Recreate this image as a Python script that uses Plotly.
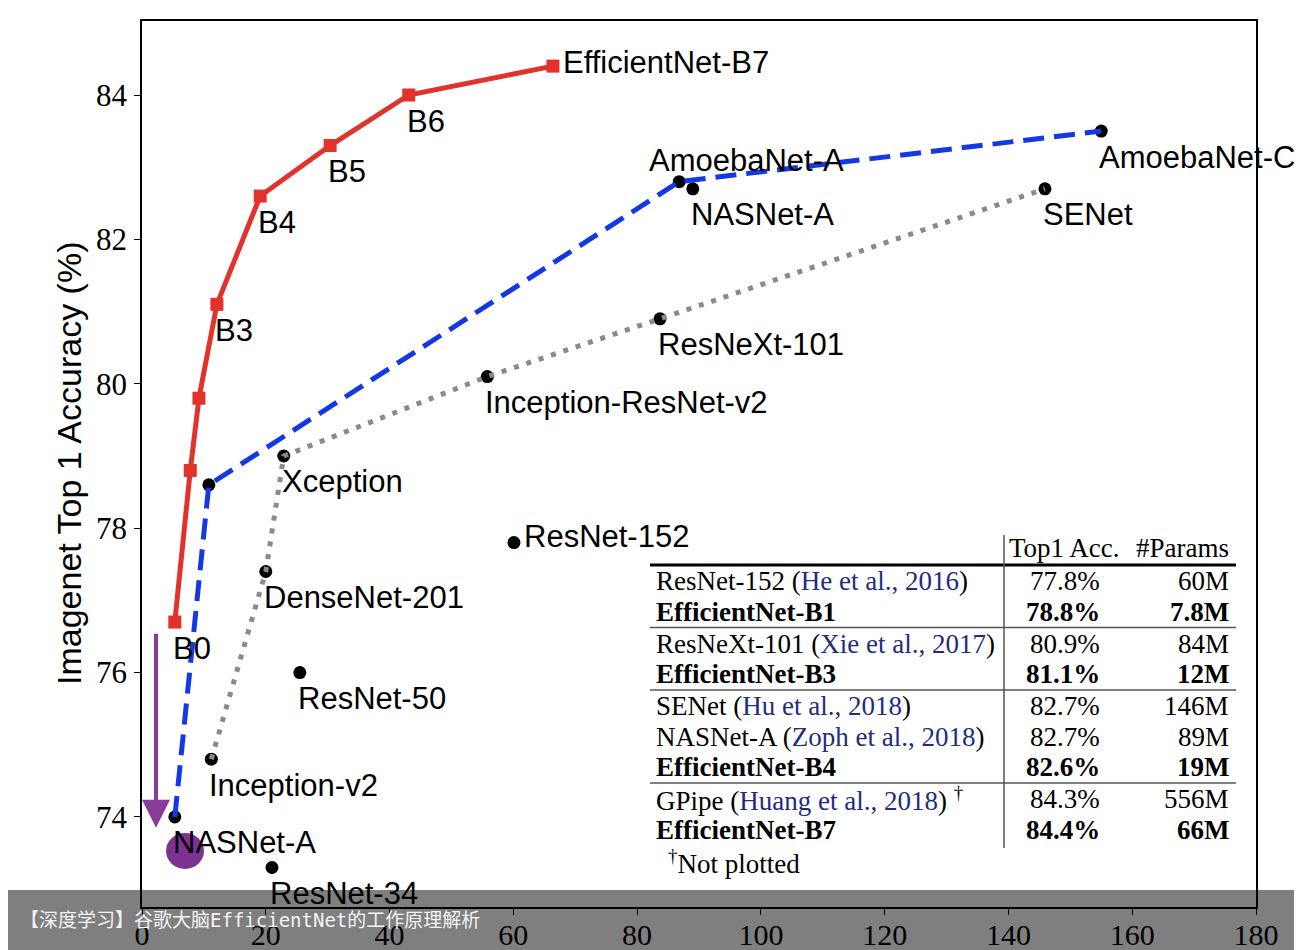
import plotly.graph_objs as go

# EfficientNet family (params in millions, top-1 accuracy %)
effnet_labels = ["B0", "", "", "B3", "B4", "B5", "B6", "EfficientNet-B7"]
effnet_params = [5.3, 7.8, 9.2, 12.1, 19.1, 30.4, 43.1, 66.4]
effnet_acc = [76.7, 78.8, 79.8, 81.1, 82.6, 83.3, 84.0, 84.4]

# blue dashed family
nas_labels = ["NASNet-A", "", "AmoebaNet-A", "AmoebaNet-C"]
nas_params = [5.3, 10.8, 86.8, 155.0]
nas_acc = [74.0, 78.6, 82.8, 83.5]

# gray dotted family
hand_labels = ["Inception-v2", "DenseNet-201", "Xception", "Inception-ResNet-v2", "ResNeXt-101", "SENet"]
hand_params = [11.2, 20.0, 22.9, 55.8, 83.7, 145.9]
hand_acc = [74.8, 77.4, 79.0, 80.1, 80.9, 82.7]

# stand-alone models
solo_labels = ["ResNet-152", "ResNet-50", "ResNet-34", "NASNet-A"]
solo_params = [60.1, 25.5, 21.0, 89.0]
solo_acc = [77.8, 76.0, 73.3, 82.7]

# inset table
tbl_model = ["ResNet-152", "EfficientNet-B1", "ResNeXt-101", "EfficientNet-B3", "SENet",
             "NASNet-A", "EfficientNet-B4", "GPipe", "EfficientNet-B7"]
tbl_cite = ["He et al., 2016", None, "Xie et al., 2017", None, "Hu et al., 2018",
            "Zoph et al., 2018", None, "Huang et al., 2018", None]
tbl_acc = ["77.8%", "78.8%", "80.9%", "81.1%", "82.7%", "82.7%", "82.6%", "84.3%", "84.4%"]
tbl_params = ["60M", "7.8M", "84M", "12M", "146M", "89M", "19M", "556M", "66M"]
tbl_group = [0, 0, 1, 1, 2, 2, 2, 3, 3]
tbl_dagger = [False, False, False, False, False, False, False, True, False]

x_ticks = [0, 20, 40, 60, 80, 100, 120, 140, 160, 180]
y_ticks = [74, 76, 78, 80, 82, 84]

banner_text = "【深度学习】谷歌大脑EfficientNet的工作原理解析"

# plot-area geometry in page pixels (page has an 8px body margin)
PAGE_W, PAGE_H, OFF = 1302, 950, 8
L, R, T, B = 142, 1256, 21, 907


def px(xp):
    return (xp - L) / (R - L)


def py(yp):
    return (B - yp) / (B - T)


RED = "#e1322c"
BLUE = "#1538e6"
GRAY = "#8a8a8a"
PURPLE = "#8a3a98"
CITE = "#1f2d80"
SANS = "Liberation Sans, Arial, sans-serif"
SERIF = "Liberation Serif, Times New Roman, serif"

fig = go.Figure()

# black dots for all the other models
fig.add_trace(go.Scatter(
    x=nas_params + hand_params + solo_params,
    y=nas_acc + hand_acc + solo_acc,
    mode='markers', marker=dict(color='black', size=13),
    showlegend=False, hoverinfo='skip'
))
fig.add_trace(go.Scatter(
    x=hand_params, y=hand_acc, mode='lines',
    line=dict(color=GRAY, width=5, dash='5px,8px'),
    showlegend=False
))
fig.add_trace(go.Scatter(
    x=nas_params, y=nas_acc, mode='lines',
    line=dict(color=BLUE, width=5, dash='21px,10px'),
    showlegend=False
))
fig.add_trace(go.Scatter(
    x=effnet_params, y=effnet_acc, mode='lines+markers',
    line=dict(color=RED, width=5),
    marker=dict(symbol='square', size=13, color=RED),
    showlegend=False
))

annotations = []

# point labels: default is just below-right of the point
special = {
    "AmoebaNet-A": dict(xanchor='center', xshift=67, yshift=21),
    "ResNet-152": dict(xanchor='left', xshift=8, yshift=6),
    "EfficientNet-B7": dict(xanchor='left', xshift=8, yshift=4),
}
for labels, xs, ys in [(effnet_labels, effnet_params, effnet_acc),
                       (nas_labels, nas_params, nas_acc),
                       (hand_labels, hand_params, hand_acc),
                       (solo_labels, solo_params, solo_acc)]:
    for lab, xv, yv in zip(labels, xs, ys):
        if not lab:
            continue
        pos = special.get(lab, dict(xanchor='left', xshift=-4, yshift=-26))
        annotations.append(dict(
            x=xv, y=yv, xref='x', yref='y', text=lab, showarrow=False,
            yanchor='middle', font=dict(family=SANS, size=31, color='black'), **pos
        ))

# y axis title
annotations.append(dict(
    x=px(69), y=0.5, xref='paper', yref='paper', text="Imagenet Top 1 Accuracy (%)",
    textangle=-90, showarrow=False, xanchor='center', yanchor='middle',
    font=dict(family=SANS, size=34, color='black')
))

# purple arrow
annotations.append(dict(
    x=2.26, y=73.85, ax=2.26, ay=76.56, xref='x', yref='y', axref='x', ayref='y',
    text="", showarrow=True, arrowhead=2, arrowsize=1.4, arrowwidth=4, arrowcolor=PURPLE
))

# inset table
tfont = dict(family=SERIF, size=27, color='black')
annotations.append(dict(x=px(1122), y=py(548), xref='paper', yref='paper', text="Top1 Acc.",
                        showarrow=False, xanchor='right', yanchor='middle', font=tfont))
annotations.append(dict(x=px(1231), y=py(548), xref='paper', yref='paper', text="#Params",
                        showarrow=False, xanchor='right', yanchor='middle', font=tfont))
row_y = []
for i, (m, c, a, p, g, d) in enumerate(zip(tbl_model, tbl_cite, tbl_acc, tbl_params, tbl_group, tbl_dagger)):
    yy = 581 + 30.5 * i + 1.5 * g
    row_y.append(yy)
    if c is None:
        name, a, p = f"<b>{m}</b>", f"<b>{a}</b>", f"<b>{p}</b>"
    else:
        name = f"{m} (<span style='color:{CITE}'>{c}</span>)"
        if d:
            name += " <sup>†</sup>"
    annotations.append(dict(x=px(654), y=py(yy), xref='paper', yref='paper', text=name,
                            showarrow=False, xanchor='left', yanchor='middle', font=tfont))
    annotations.append(dict(x=px(1102), y=py(yy), xref='paper', yref='paper', text=a,
                            showarrow=False, xanchor='right', yanchor='middle', font=tfont))
    annotations.append(dict(x=px(1231), y=py(yy), xref='paper', yref='paper', text=p,
                            showarrow=False, xanchor='right', yanchor='middle', font=tfont))
annotations.append(dict(x=px(666), y=py(862), xref='paper', yref='paper', text="<sup>†</sup>Not plotted",
                        showarrow=False, xanchor='left', yanchor='middle', font=tfont))

# banner caption
annotations.append(dict(
    x=px(18), y=py(920), xref='paper', yref='paper', text=banner_text, showarrow=False,
    xanchor='left', yanchor='middle',
    font=dict(family="DejaVu Sans Mono, Noto Sans CJK SC, monospace", size=19, color='#f4f4f4')
))

shapes = []
# table rules
shapes.append(dict(type='line', xref='paper', yref='paper', x0=px(650), x1=px(1236),
                   y0=py(565), y1=py(565), line=dict(color='black', width=3)))
for i in range(len(tbl_group) - 1):
    if tbl_group[i] != tbl_group[i + 1]:
        ys = (row_y[i] + row_y[i + 1]) / 2
        shapes.append(dict(type='line', xref='paper', yref='paper', x0=px(650), x1=px(1236),
                           y0=py(ys), y1=py(ys), line=dict(color='#555', width=1.5)))
shapes.append(dict(type='line', xref='paper', yref='paper', x0=px(1004), x1=px(1004),
                   y0=py(535), y1=py(848), line=dict(color='#555', width=1.5)))
# purple blob
shapes.append(dict(type='circle', xref='x', yref='y', xsizemode='pixel', ysizemode='pixel',
                   xanchor=6.95, yanchor=73.53, x0=-19, x1=19, y0=-18, y1=18,
                   fillcolor='#7d3190', line=dict(width=0)))
# translucent banner
shapes.append(dict(type='rect', xref='paper', yref='paper', x0=px(0), x1=px(PAGE_W + 20),
                   y0=py(PAGE_H + 20), y1=py(890), fillcolor='rgba(0,0,0,0.5)',
                   line=dict(width=0), layer='above'))

fig.update_layout(
    width=PAGE_W - OFF, height=PAGE_H - OFF,
    margin=dict(l=L - OFF, r=PAGE_W - R, t=T - OFF, b=PAGE_H - B, autoexpand=False),
    paper_bgcolor='white', plot_bgcolor='white',
    showlegend=False,
    annotations=annotations,
    shapes=shapes,
)
fig.update_xaxes(
    range=[0, 180], tickvals=x_ticks, showgrid=False, zeroline=False, automargin=False,
    showline=True, linecolor='black', linewidth=1.5, mirror=True,
    ticks='outside', ticklen=6, tickcolor='black', ticklabelstandoff=-6,
    tickfont=dict(family=SERIF, size=30, color='black')
)
fig.update_yaxes(
    range=[72.753, 85.025], tickvals=y_ticks, showgrid=False, zeroline=False, automargin=False,
    showline=True, linecolor='black', linewidth=1.5, mirror=True,
    ticks='outside', ticklen=6, tickcolor='black', ticklabelstandoff=1,
    tickfont=dict(family=SERIF, size=31, color='black')
)

fig.write_html("out.html")
